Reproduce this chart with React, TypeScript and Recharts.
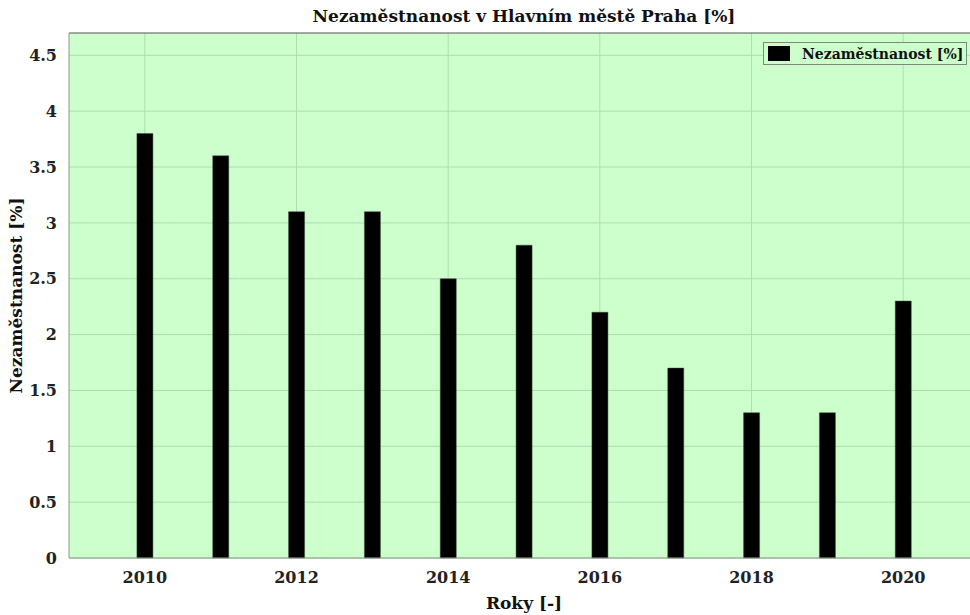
import {
  Bar,
  BarChart,
  CartesianGrid,
  Label,
  ReferenceLine,
  XAxis,
  YAxis,
} from "recharts";

// míra nezaměstnanosti v Praze podle let
const years = [2010, 2011, 2012, 2013, 2014, 2015, 2016, 2017, 2018, 2019, 2020];
const rates = [3.8, 3.6, 3.1, 3.1, 2.5, 2.8, 2.2, 1.7, 1.3, 1.3, 2.3];
const xTicks = [2010, 2012, 2014, 2016, 2018, 2020];
const yTicks = [0, 0.5, 1, 1.5, 2, 2.5, 3, 3.5, 4, 4.5];

const seriesName = "Nezaměstnanost [%]";
const title = "Nezaměstnanost v Hlavním městě Praha [%]";

const data = years.map((year, i) => ({ year, rate: rates[i] }));

const FONT = "'DejaVu Serif', serif";

function LegendBox() {
  return (
    <div
      style={{
        position: "absolute",
        left: 763,
        top: 42,
        height: 21,
        display: "flex",
        alignItems: "center",
        border: "1px solid #7a8a7a",
        background: "#ccffcc",
        padding: "0 3px 0 4px",
        fontFamily: FONT,
        fontWeight: "bold",
        fontSize: 14,
        color: "#111",
        whiteSpace: "nowrap",
      }}
    >
      <span
        style={{
          display: "inline-block",
          width: 22,
          height: 15,
          background: "#000",
          marginRight: 12,
        }}
      />
      {seriesName}
    </div>
  );
}

export default function App() {
  return (
    <div
      style={{
        position: "absolute",
        left: 0,
        top: 0,
        width: 970,
        height: 615,
        overflow: "hidden",
        background: "#fff",
      }}
    >
      <div
        style={{
          position: "absolute",
          left: 0,
          width: 1048,
          top: 6,
          textAlign: "center",
          fontFamily: FONT,
          fontWeight: "bold",
          fontSize: 17,
          color: "#111",
        }}
      >
        {title}
      </div>
      <BarChart
        width={990}
        height={615}
        data={data}
        margin={{ top: 33, right: 11, bottom: 0, left: 0 }}
      >
        <CartesianGrid
          fill="#ccffcc"
          stroke="#b0dcb0"
          strokeWidth={1}
          verticalValues={xTicks}
          horizontalValues={yTicks}
        />
        <XAxis
          dataKey="year"
          type="number"
          domain={[2009, 2021]}
          ticks={xTicks}
          height={57}
          tickLine={false}
          axisLine={{ stroke: "#8a9a8a" }}
          tickMargin={8}
          tick={{ fontFamily: FONT, fontWeight: "bold", fontSize: 16, fill: "#222" }}
        >
          <Label
            value="Roky [-]"
            position="insideBottom"
            offset={6}
            style={{ fontFamily: FONT, fontWeight: "bold", fontSize: 17, fill: "#111" }}
          />
        </XAxis>
        <YAxis
          type="number"
          domain={[0, 4.7]}
          ticks={yTicks}
          width={69}
          tickLine={false}
          axisLine={{ stroke: "#8a9a8a" }}
          tickMargin={6}
          tick={{ fontFamily: FONT, fontWeight: "bold", fontSize: 16, fill: "#222" }}
        >
          <Label
            value={seriesName}
            angle={-90}
            position="insideLeft"
            offset={16}
            style={{
              textAnchor: "middle",
              fontFamily: FONT,
              fontWeight: "bold",
              fontSize: 17,
              fill: "#111",
            }}
          />
        </YAxis>
        <ReferenceLine y={4.7} stroke="#555" strokeWidth={1} />
        <Bar
          dataKey="rate"
          name={seriesName}
          fill="#000"
          stroke="#3a4a3a"
          strokeWidth={0.5}
          barSize={16}
          isAnimationActive={false}
        />
      </BarChart>
      <LegendBox />
    </div>
  );
}
